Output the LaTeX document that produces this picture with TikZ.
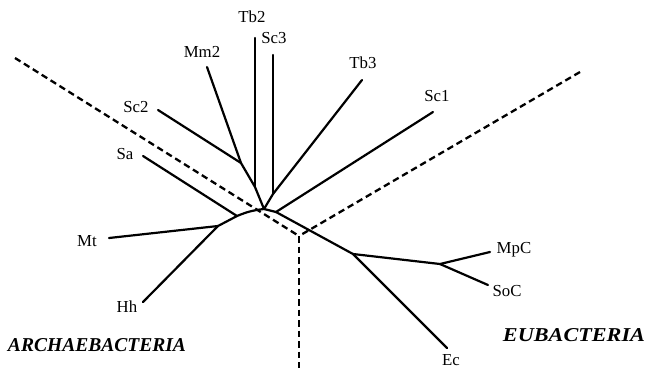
\documentclass[tikz,border=0pt]{standalone}
\usepackage{fontspec}
\setmainfont{Liberation Serif}
\begin{document}
\begin{tikzpicture}[x=1pt,y=-1pt,
  branch/.style={line width=2.2pt, line cap=round, line join=round},
  split/.style={line width=2.3pt, dash pattern=on 6.5pt off 4pt},
  taxon/.style={font=\fontsize{16.8}{17}\selectfont, inner sep=0pt},
  kingdom/.style={inner sep=0pt}]
\useasboundingbox (0,0) rectangle (649,368);
% internal nodes
\coordinate (H) at (264,209);
\coordinate (J1) at (241,163);
\coordinate (J2) at (255,187);
\coordinate (J3) at (273,194);
\coordinate (J4) at (276,212);
\coordinate (A) at (237,216);
\coordinate (B) at (218,226);
\coordinate (J5) at (353,254);
\coordinate (J6) at (440,264);
% leaf ends
\coordinate (Sc2e) at (158,110);
\coordinate (Mm2e) at (207,67);
\coordinate (Tb2e) at (255,38);
\coordinate (Sc3e) at (273,55);
\coordinate (Tb3e) at (362,80);
\coordinate (Sc1e) at (433,112);
\coordinate (Sae) at (143,156);
\coordinate (Mte) at (109,238);
\coordinate (Hhe) at (143,302);
\coordinate (Ece) at (447,348);
\coordinate (MpCe) at (490,252);
\coordinate (SoCe) at (488,285);
% dashed split
\coordinate (D1) at (15,58);
\coordinate (Y) at (299,236);
\coordinate (D2) at (580,72);
\coordinate (D3) at (299,368);
% labels
\node[taxon] (lTb2) at (252,17) {Tb2};
\node[taxon] (lSc3) at (274,38) {Sc3};
\node[taxon] (lMm2) at (202,52) {Mm2};
\node[taxon] (lTb3) at (363,63) {Tb3};
\node[taxon] (lSc1) at (437,96) {Sc1};
\node[taxon] (lSc2) at (136,107) {Sc2};
\node[taxon] (lSa) at (125,154) {Sa};
\node[taxon] (lMt) at (87,241) {Mt};
\node[taxon] (lHh) at (127,307) {Hh};
\node[taxon] (lMpC) at (514,250) {MpC};
\node[taxon] (lSoC) at (507,291) {SoC};
\node[taxon] (lEc) at (451,360) {Ec};
\node[kingdom] (arch) at (97,345) {\resizebox{178pt}{13pt}{\bfseries\itshape ARCHAEBACTERIA}};
\node[kingdom] (eub) at (574,335) {\resizebox{142pt}{13pt}{\bfseries\itshape EUBACTERIA}};
% tree
\draw[branch] (Sc2e) -- (J1);
\draw[branch] (Mm2e) -- (J1);
\draw[branch] (J1) -- (J2) -- (H);
\draw[branch] (Tb2e) -- (J2);
\draw[branch] (Sc3e) -- (J3);
\draw[branch] (Tb3e) -- (J3);
\draw[branch] (J3) -- (H);
\draw[branch] (H) -- (J4);
\draw[branch] (Sc1e) -- (J4);
\draw[branch] (J4) -- (J5) -- (Ece);
\draw[branch] (J5) -- (J6);
\draw[branch] (J6) -- (MpCe);
\draw[branch] (J6) -- (SoCe);
\draw[branch] (H) to[bend right=8] (A);
\draw[branch] (A) -- (B);
\draw[branch] (Sae) -- (A);
\draw[branch] (Mte) -- (B);
\draw[branch] (Hhe) -- (B);
% dashed lines
\draw[split] (D1) -- (Y);
\draw[split] (D2) -- (Y);
\draw[split] (Y) -- (D3);
\end{tikzpicture}
\end{document}
